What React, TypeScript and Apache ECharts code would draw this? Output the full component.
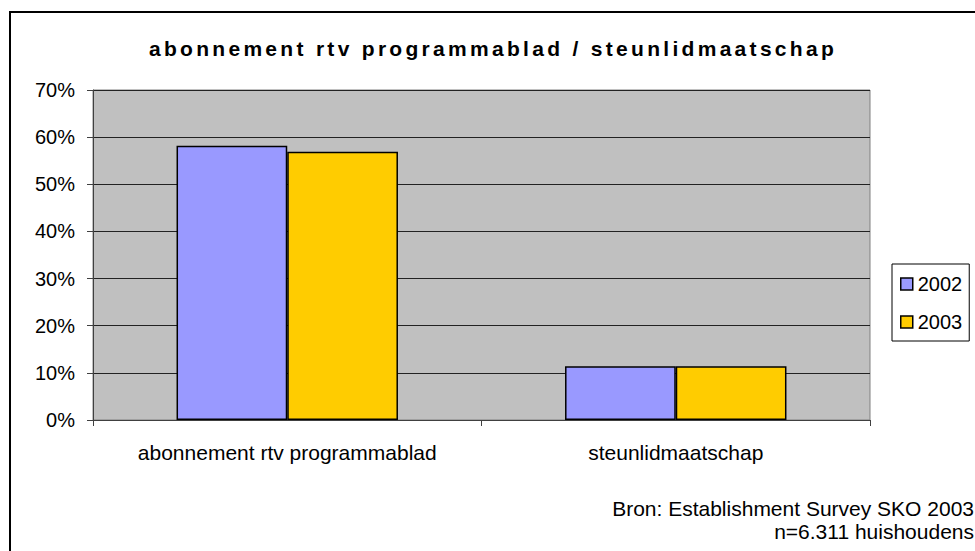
import React, { useEffect, useRef } from "react";
import * as echarts from "echarts";

const categories = ["abonnement rtv programmablad", "steunlidmaatschap"];
const seriesNames = ["2002", "2003"];
const values2002 = [0.582, 0.114];
const values2003 = [0.569, 0.114];
const colors = ["#9999FF", "#FFCC00"];
const titleText = "abonnement rtv programmablad / steunlidmaatschap";
const sourceLines = ["Bron: Establishment Survey SKO 2003", "n=6.311 huishoudens"];

const FONT = "'Liberation Sans', Arial, sans-serif";

export default function App() {
  const ref = useRef<HTMLDivElement>(null);
  useEffect(() => {
    if (!ref.current) return;
    const chart = echarts.init(ref.current, null, { renderer: "svg" });
    const allValues = [values2002, values2003];
    chart.setOption({
      animation: false,
      backgroundColor: "#ffffff",
      textStyle: { fontFamily: FONT },
      title: {
        text: titleText,
        left: 488,
        textAlign: "center",
        top: 33,
        textStyle: { fontFamily: FONT, fontSize: 21, fontWeight: "bold", color: "#000" },
      },
      graphic: [
        {
          type: "rect",
          z: -10,
          shape: { x: 10, y: 12, width: 1000, height: 600 },
          style: { fill: "#fff", stroke: "#000", lineWidth: 2 },
        },
        {
          type: "text",
          x: 974,
          y: 508,
          style: { text: sourceLines[0], textAlign: "right", textVerticalAlign: "middle", fontFamily: FONT, fontSize: 21, fill: "#000" },
        },
        {
          type: "text",
          x: 974,
          y: 531,
          style: { text: sourceLines[1], textAlign: "right", textVerticalAlign: "middle", fontFamily: FONT, fontSize: 21, fill: "#000" },
        },
      ],
      grid: {
        left: 93,
        top: 90,
        width: 777,
        height: 330,
        show: true,
        backgroundColor: "#C0C0C0",
        borderColor: "#808080",
        borderWidth: 1,
      },
      legend: {
        orient: "vertical",
        left: 892,
        top: 264,
        padding: [10, 7, 9, 8],
        itemWidth: 12,
        itemHeight: 12,
        itemGap: 18,
        borderColor: "#000",
        borderWidth: 1,
        backgroundColor: "#fff",
        textStyle: { fontFamily: FONT, fontSize: 20, color: "#000" },
        data: seriesNames.map((n, i) => ({
          name: n,
          icon: "rect",
          itemStyle: { color: colors[i], borderColor: "#000", borderWidth: 1.5 },
        })),
      },
      xAxis: {
        type: "category",
        data: categories,
        axisLine: { show: true, lineStyle: { color: "#404040", width: 1 } },
        axisTick: { show: true, alignWithLabel: false, length: 6, lineStyle: { color: "#404040" } },
        axisLabel: { fontFamily: FONT, fontSize: 21, color: "#000", margin: 22 },
      },
      yAxis: {
        type: "value",
        min: 0,
        max: 0.7,
        interval: 0.1,
        axisLine: { show: true, lineStyle: { color: "#404040", width: 1 } },
        axisTick: { show: true, length: 6, lineStyle: { color: "#404040" } },
        axisLabel: {
          fontFamily: FONT,
          fontSize: 20,
          color: "#000",
          margin: 18,
          formatter: (v: number) => Math.round(v * 100) + "%",
        },
        splitLine: { show: true, lineStyle: { color: "#222", width: 1 } },
      },
      series: seriesNames.map((n, i) => ({
        name: n,
        type: "bar",
        data: allValues[i],
        barGap: "0%",
        barCategoryGap: "43%",
        itemStyle: { color: colors[i], borderColor: "#000", borderWidth: 1.5 },
      })),
    });
    // widen the title's letter spacing to match the reference rendering
    const svg = ref.current.querySelector("svg");
    if (svg) {
      svg.querySelectorAll("text").forEach((t) => {
        if (t.textContent === titleText) t.setAttribute("letter-spacing", "3.3");
      });
    }
    return () => chart.dispose();
  }, []);
  return (
    <div
      ref={ref}
      style={{ position: "absolute", left: 0, top: 0, width: 975, height: 551 }}
    />
  );
}
